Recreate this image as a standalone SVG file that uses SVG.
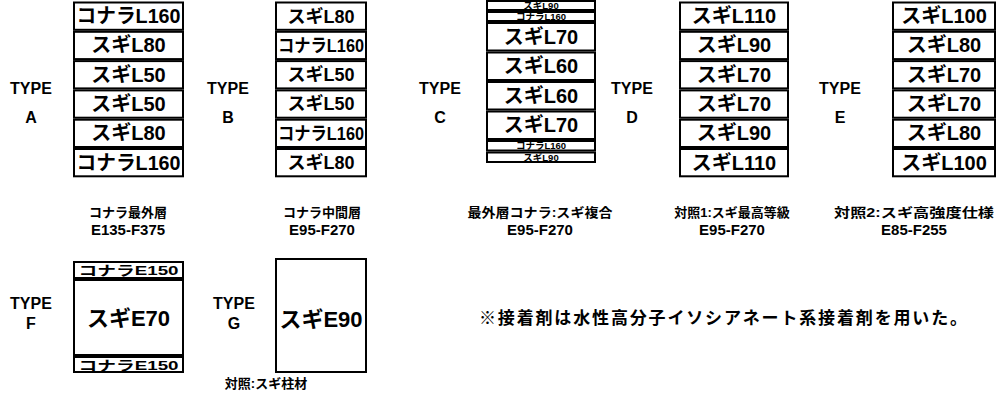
<svg xmlns="http://www.w3.org/2000/svg" width="997" height="395" viewBox="0 0 997 395">
<style>
text{font-family:"Liberation Sans","Noto Sans CJK JP",sans-serif;font-weight:bold;fill:#000;text-anchor:middle}
.lam{fill:#fff;stroke:#000;stroke-width:2}
.big{font-size:20px}
.mid{font-size:18px}
.sm{font-size:9.5px}
.lbl{font-size:16px}
.cap{font-size:13px}
.cap2{font-size:15px}
</style>
<rect width="997" height="395" fill="#fff"/>
<g id="typeA">
<text class="lbl" x="31" y="94">TYPE</text><text class="lbl" x="31" y="123">A</text>
<rect class="lam" x="74" y="2.5" width="109" height="27.3"/><text class="big" x="128.5" y="23" textLength="104" lengthAdjust="spacingAndGlyphs">コナラL160</text>
<rect class="lam" x="74" y="31.8" width="109" height="27.3"/><text class="big" x="128.5" y="52.4">スギL80</text>
<rect class="lam" x="74" y="61.1" width="109" height="27.3"/><text class="big" x="128.5" y="81.7">スギL50</text>
<rect class="lam" x="74" y="90.4" width="109" height="27.3"/><text class="big" x="128.5" y="111">スギL50</text>
<rect class="lam" x="74" y="119.7" width="109" height="27.3"/><text class="big" x="128.5" y="140.3">スギL80</text>
<rect class="lam" x="74" y="149" width="109" height="27.3"/><text class="big" x="128.5" y="169.6" textLength="104" lengthAdjust="spacingAndGlyphs">コナラL160</text>
<text class="cap" x="128" y="217">コナラ最外層</text><text class="cap2" x="128" y="235">E135-F375</text>
</g>
<g id="typeB">
<text class="lbl" x="228" y="94">TYPE</text><text class="lbl" x="228" y="123">B</text>
<rect class="lam" x="276" y="2.5" width="90" height="27.3"/><text class="mid" x="321" y="22.5">スギL80</text>
<rect class="lam" x="276" y="31.8" width="90" height="27.3"/><text class="mid" x="321" y="51.8" textLength="86" lengthAdjust="spacingAndGlyphs">コナラL160</text>
<rect class="lam" x="276" y="61.1" width="90" height="27.3"/><text class="mid" x="321" y="81.1">スギL50</text>
<rect class="lam" x="276" y="90.4" width="90" height="27.3"/><text class="mid" x="321" y="110.4">スギL50</text>
<rect class="lam" x="276" y="119.7" width="90" height="27.3"/><text class="mid" x="321" y="139.7" textLength="86" lengthAdjust="spacingAndGlyphs">コナラL160</text>
<rect class="lam" x="276" y="149" width="90" height="27.3"/><text class="mid" x="321" y="169">スギL80</text>
<text class="cap" x="322" y="217">コナラ中間層</text><text class="cap2" x="322" y="235">E95-F270</text>
</g>
<g id="typeC">
<text class="lbl" x="440" y="94">TYPE</text><text class="lbl" x="440" y="123">C</text>
<rect class="lam" x="487" y="1" width="108" height="9"/><text class="sm" x="541" y="9">スギL90</text>
<rect class="lam" x="487" y="12" width="108" height="9"/><text class="sm" x="541" y="20">コナラL160</text>
<rect class="lam" x="487" y="23" width="108" height="27.5"/><text class="big" x="541" y="43.5">スギL70</text>
<rect class="lam" x="487" y="52.5" width="108" height="27.5"/><text class="big" x="541" y="73">スギL60</text>
<rect class="lam" x="487" y="82" width="108" height="27.5"/><text class="big" x="541" y="102.5">スギL60</text>
<rect class="lam" x="487" y="111.5" width="108" height="27.5"/><text class="big" x="541" y="132">スギL70</text>
<rect class="lam" x="487" y="141" width="108" height="9.5"/><text class="sm" x="541" y="149.2">コナラL160</text>
<rect class="lam" x="487" y="152.5" width="108" height="9.5"/><text class="sm" x="541" y="160.7">スギL90</text>
<text class="cap" x="540" y="217" textLength="145" lengthAdjust="spacingAndGlyphs">最外層コナラ:スギ複合</text><text class="cap2" x="540" y="235">E95-F270</text>
</g>
<g id="typeD">
<text class="lbl" x="632" y="94">TYPE</text><text class="lbl" x="632" y="123">D</text>
<rect class="lam" x="680" y="2.5" width="108" height="27.3"/><text class="big" x="734" y="23">スギL110</text>
<rect class="lam" x="680" y="31.8" width="108" height="27.3"/><text class="big" x="734" y="52.4">スギL90</text>
<rect class="lam" x="680" y="61.1" width="108" height="27.3"/><text class="big" x="734" y="81.7">スギL70</text>
<rect class="lam" x="680" y="90.4" width="108" height="27.3"/><text class="big" x="734" y="111">スギL70</text>
<rect class="lam" x="680" y="119.7" width="108" height="27.3"/><text class="big" x="734" y="140.3">スギL90</text>
<rect class="lam" x="680" y="149" width="108" height="27.3"/><text class="big" x="734" y="169.6">スギL110</text>
<text class="cap" x="732" y="217">対照1:スギ最高等級</text><text class="cap2" x="732" y="235">E95-F270</text>
</g>
<g id="typeE">
<text class="lbl" x="840" y="94">TYPE</text><text class="lbl" x="840" y="123">E</text>
<rect class="lam" x="893" y="2.5" width="102" height="27.3"/><text class="big" x="944" y="23">スギL100</text>
<rect class="lam" x="893" y="31.8" width="102" height="27.3"/><text class="big" x="944" y="52.4">スギL80</text>
<rect class="lam" x="893" y="61.1" width="102" height="27.3"/><text class="big" x="944" y="81.7">スギL70</text>
<rect class="lam" x="893" y="90.4" width="102" height="27.3"/><text class="big" x="944" y="111">スギL70</text>
<rect class="lam" x="893" y="119.7" width="102" height="27.3"/><text class="big" x="944" y="140.3">スギL80</text>
<rect class="lam" x="893" y="149" width="102" height="27.3"/><text class="big" x="944" y="169.6">スギL100</text>
<text class="cap" x="914" y="217" textLength="160" lengthAdjust="spacingAndGlyphs">対照2:スギ高強度仕様</text><text class="cap2" x="914" y="235">E85-F255</text>
</g>
<g id="typeF">
<text class="lbl" x="31" y="309">TYPE</text><text class="lbl" x="31" y="329">F</text>
<rect class="lam" x="74" y="262" width="109" height="16"/><text x="128.5" y="275" style="font-size:13px" textLength="100" lengthAdjust="spacingAndGlyphs">コナラE150</text>
<rect class="lam" x="74" y="280" width="109" height="75"/><text class="big" x="128.5" y="326" style="font-size:22px">スギE70</text>
<rect class="lam" x="74" y="357" width="109" height="15"/><text x="128.5" y="369.5" style="font-size:13px" textLength="100" lengthAdjust="spacingAndGlyphs">コナラE150</text>
</g>
<g id="typeG">
<text class="lbl" x="234" y="309">TYPE</text><text class="lbl" x="234" y="329">G</text>
<rect class="lam" x="276" y="259" width="90" height="113"/><text class="big" x="321" y="327" style="font-size:22px">スギE90</text>
<text class="cap" x="266" y="388">対照:スギ柱材</text>
</g>
<g id="note">
<text x="723" y="324" style="font-size:17px" textLength="488" lengthAdjust="spacing">※接着剤は水性高分子イソシアネート系接着剤を用いた。</text>
</g>
<g id="connectors"></g>
</svg>
